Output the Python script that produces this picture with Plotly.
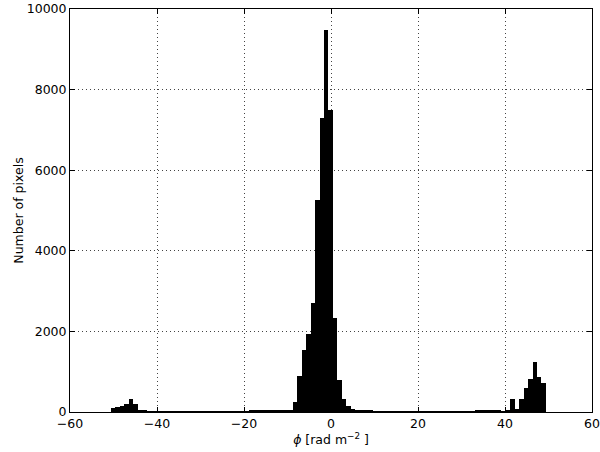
import plotly.graph_objects as go

# histogram of Faraday depth
BIN_START = -50.57
BIN_WIDTH = 1.02

counts = [
    110, 125, 150, 210, 320, 210, 50, 25,
    12, 10, 10, 8, 8, 10, 10, 10, 12, 12, 12, 12, 14,
    14, 15, 15, 16, 16, 18, 18, 20, 22, 22, 25, 25, 28, 28, 30,
    30, 32, 30, 28, 30,
    240, 900, 1550, 1940, 2710, 5260, 7290, 9490, 7485, 2340, 800, 320, 150, 70,
    40, 35, 30, 25, 22, 20,
    18, 18, 16, 16, 15, 15, 15, 14, 14, 15, 15, 16, 16, 18,
    18, 16, 18, 20, 22, 22, 24, 25, 25, 25, 26, 28, 25, 22,
    35, 330, 80, 330, 600, 830, 1240, 870, 730,
]

x_ticks = [-60, -40, -20, 0, 20, 40, 60]
y_ticks = [0, 2000, 4000, 6000, 8000, 10000]

centers = [BIN_START + BIN_WIDTH * (i + 0.5) for i in range(len(counts))]

FONT = "DejaVu Sans, sans-serif"

fig = go.Figure(
    go.Bar(
        x=centers,
        y=counts,
        width=BIN_WIDTH,
        marker=dict(color="black", line=dict(color="black", width=0)),
    )
)

axis_style = dict(
    showline=True,
    mirror="ticks",
    linecolor="black",
    linewidth=1,
    ticks="inside",
    ticklen=5,
    tickcolor="black",
    showgrid=True,
    gridcolor="#444444",
    griddash="1px,3px",
    gridwidth=0.6,
    zeroline=False,
    automargin=False,
    tickfont=dict(family=FONT, size=12.5, color="black"),
)

fig.update_layout(
    width=600,
    height=452,
    margin=dict(l=70, r=8, t=9, b=40),
    paper_bgcolor="white",
    plot_bgcolor="white",
    bargap=0,
    showlegend=False,
    font=dict(family=FONT, size=12.5, color="black"),
)
fig.update_xaxes(
    range=[-60, 60],
    tickvals=x_ticks,
    ticktext=[str(v).replace("-", "−") for v in x_ticks],
    title=dict(text="<i>ϕ</i> [rad m<sup>−2</sup> ]", standoff=0,
               font=dict(family=FONT, size=12.5)),
    **axis_style,
)
fig.update_yaxes(
    range=[0, 10000],
    tickvals=y_ticks,
    ticktext=[str(v) for v in y_ticks],
    title=dict(text="Number of pixels", standoff=0,
               font=dict(family=FONT, size=12.5)),
    **axis_style,
)

# the page body has a default 8px margin; drop it so the figure sits at 0,0
fig.write_html(
    "out.html",
    config={"displayModeBar": False},
    post_script="document.body.style.margin='0';",
)
